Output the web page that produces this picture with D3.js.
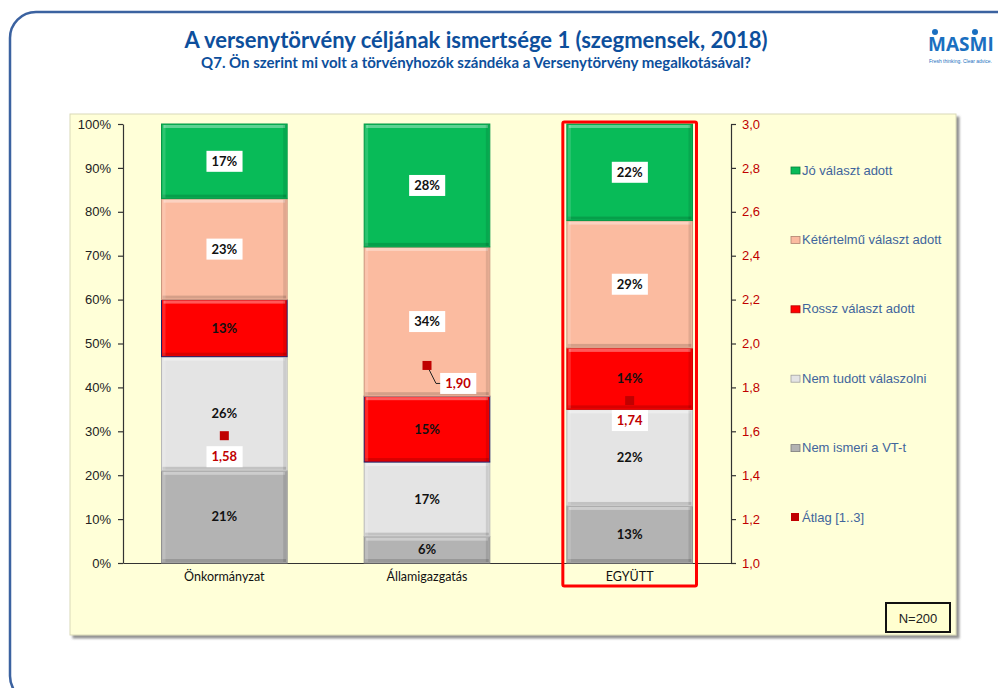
<!DOCTYPE html>
<html>
<head>
<meta charset="utf-8">
<script src="https://cdn.jsdelivr.net/npm/d3@7"></script>
<style>
  body { margin: 0; background: #fff; }
  svg { display: block; }
</style>
</head>
<body>
<div id="chart"></div>
<script>
// data
const categories = ["Önkormányzat", "Államigazgatás", "EGYÜTT"];
const seriesNames = ["Nem ismeri a VT-t", "Nem tudott válaszolni", "Rossz választ adott", "Kétértelmű választ adott", "Jó választ adott"];
const nemIsmeri = [21, 6, 13];
const nemTudott = [26, 17, 22];
const rossz = [13, 15, 14];
const ketertelmu = [23, 34, 29];
const jo = [17, 28, 22];
const atlag = [1.58, 1.90, 1.74];
const leftTicks = [0, 10, 20, 30, 40, 50, 60, 70, 80, 90, 100];
const rightTicks = [1.0, 1.2, 1.4, 1.6, 1.8, 2.0, 2.2, 2.4, 2.6, 2.8, 3.0];
const legendNames = ["Jó választ adott", "Kétértelmű választ adott", "Rossz választ adott", "Nem tudott válaszolni", "Nem ismeri a VT-t", "Átlag [1..3]"];

const colors = {
  "Nem ismeri a VT-t": "#b3b3b3",
  "Nem tudott válaszolni": "#e4e4e4",
  "Rossz választ adott": "#ff0000",
  "Kétértelmű választ adott": "#fbbba0",
  "Jó választ adott": "#08bb58",
  "Átlag [1..3]": "#c00000"
};
const boxed = ["Kétértelmű választ adott", "Jó választ adott"];

const huLocale = d3.formatLocale({ decimal: ",", thousands: " ", grouping: [3], currency: ["", " Ft"] });
const fmt1 = huLocale.format(".1f");
const fmt2 = huLocale.format(".2f");

const table = categories.map((c, i) => ({
  cat: c,
  "Nem ismeri a VT-t": nemIsmeri[i],
  "Nem tudott válaszolni": nemTudott[i],
  "Rossz választ adott": rossz[i],
  "Kétértelmű választ adott": ketertelmu[i],
  "Jó választ adott": jo[i],
  atlag: atlag[i]
}));

const W = 998, H = 688;
const svg = d3.select("#chart").append("svg").attr("width", W).attr("height", H)
  .style("font-family", "'Liberation Sans', Arial, sans-serif");

// outer rounded frame
svg.append("rect").attr("x", 10).attr("y", 12).attr("width", 1030).attr("height", 690)
  .attr("rx", 26).attr("fill", "none").attr("stroke", "#3b62a0").attr("stroke-width", 2.5);

// titles
svg.append("text").attr("x", 476).attr("y", 48).attr("text-anchor", "middle")
  .style("font-family", "Lato, sans-serif").style("font-weight", "bold").style("font-size", "22px")
  .attr("fill", "#0d4f9c").text("A versenytörvény céljának ismertsége 1 (szegmensek, 2018)");
svg.append("text").attr("x", 476).attr("y", 68).attr("text-anchor", "middle")
  .style("font-family", "Lato, sans-serif").style("font-weight", "bold").style("font-size", "15px")
  .attr("fill", "#0d4f9c").text("Q7. Ön szerint mi volt a törvényhozók szándéka a Versenytörvény megalkotásával?");

// logo
const logo = svg.append("g").attr("transform", "translate(928,0)");
logo.append("text").attr("x", 0).attr("y", 51)
  .style("font-family", "'Open Sans', sans-serif").style("font-weight", "bold").style("font-size", "19px")
  .attr("fill", "#1a6fc0").text("MASMI");
[7, 47].forEach(dx => logo.append("circle").attr("cx", dx).attr("cy", 32).attr("r", 3).attr("fill", "#1a6fc0"));
logo.append("text").attr("x", 1).attr("y", 63).style("font-size", "5.5px")
  .attr("textLength", 63).attr("lengthAdjust", "spacingAndGlyphs")
  .attr("fill", "#1a6fc0").text("Fresh thinking. Clear advice.");

// panel
const defs = svg.append("defs");
const sh = defs.append("filter").attr("id", "shadow").attr("x", "-5%").attr("y", "-5%").attr("width", "110%").attr("height", "110%");
sh.append("feDropShadow").attr("dx", 3).attr("dy", 3).attr("stdDeviation", 1.2).attr("flood-color", "#777").attr("flood-opacity", 0.8);
svg.append("rect").attr("x", 70).attr("y", 114).attr("width", 886).attr("height", 521)
  .attr("fill", "#ffffd8").attr("stroke", "#d9d9b8").attr("stroke-width", 1).attr("filter", "url(#shadow)");

const margin = { top: 124, left: 123 };
const width = 608, height = 439;
const g = svg.append("g").attr("transform", `translate(${margin.left},${margin.top})`);

const x = d3.scaleBand().domain(categories).range([0, width]).paddingInner(0.38).paddingOuter(0.19);
const y = d3.scaleLinear().domain([0, 100]).range([height, 0]);
const y2 = d3.scaleLinear().domain([1, 3]).range([height, 0]);

// axes
const axL = g.append("g").call(d3.axisLeft(y).tickValues(leftTicks).tickFormat(d => d + "%").tickSize(5).tickSizeOuter(0));
axL.selectAll("text").attr("fill", "#222").style("font-size", "13px").attr("x", -12);
const axR = g.append("g").attr("transform", `translate(${width},0)`)
  .call(d3.axisRight(y2).tickValues(rightTicks).tickFormat(fmt1).tickSize(5).tickSizeOuter(0));
axR.selectAll("text").attr("fill", "#c00000").style("font-size", "13px").attr("x", 11);
const axB = g.append("g").attr("transform", `translate(0,${height})`)
  .call(d3.axisBottom(x).tickSize(0).tickSizeOuter(0));
axB.selectAll("text").attr("fill", "#111").style("font-family", "Lato, sans-serif").style("font-size", "12.5px").attr("dy", "1.2em");
g.selectAll(".domain, .tick line").attr("stroke", "#333").attr("stroke-width", 1.2);

// stacked bars
const stack = d3.stack().keys(seriesNames)(table);
const bw = x.bandwidth();
stack.forEach(layer => {
  const key = layer.key;
  const lg = g.append("g");
  layer.forEach(d => {
    const x0 = x(d.data.cat), yt = y(d[1]), yb = y(d[0]);
    const h = yb - yt;
    const isRed = key === "Rossz választ adott";
    lg.append("rect").attr("x", x0).attr("y", yt).attr("width", bw).attr("height", h)
      .attr("fill", colors[key])
      .attr("stroke", isRed && d.data.cat !== "EGYÜTT" ? "#1c1c6a" : d3.color(colors[key]).darker(0.6))
      .attr("stroke-width", 1);
    // bevel
    lg.append("rect").attr("x", x0 + 2).attr("y", yt + 1).attr("width", bw - 4).attr("height", 3)
      .attr("fill", "#fff").attr("opacity", 0.35);
    lg.append("rect").attr("x", x0 + 1).attr("y", yb - 4).attr("width", bw - 2).attr("height", 3)
      .attr("fill", "#000").attr("opacity", 0.15);
    lg.append("rect").attr("x", x0 + bw - 4).attr("y", yt + 1).attr("width", 3).attr("height", h - 2)
      .attr("fill", "#000").attr("opacity", 0.1);
    lg.append("rect").attr("x", x0 + 1).attr("y", yt + 1).attr("width", 3).attr("height", h - 2)
      .attr("fill", "#fff").attr("opacity", 0.15);
  });
});

// percentage labels
stack.forEach(layer => {
  layer.forEach(d => {
    const cx = x(d.data.cat) + bw / 2;
    const cy = (y(d[0]) + y(d[1])) / 2;
    const lbl = g.append("g");
    const t = lbl.append("text").attr("x", cx).attr("y", cy).attr("dy", "0.35em")
      .attr("text-anchor", "middle").style("font-family", "Lato, sans-serif")
      .style("font-weight", "bold").style("font-size", "13px").attr("fill", "#111")
      .text((d[1] - d[0]) + "%");
    if (boxed.includes(layer.key)) {
      const bb = t.node().getBBox();
      lbl.insert("rect", "text").attr("x", bb.x - 5).attr("y", cy - 10.5)
        .attr("width", bb.width + 10).attr("height", 21).attr("fill", "#fff");
    }
  });
});

// average markers
const labelOffset = { "Önkormányzat": [0, 21], "Államigazgatás": [31, 18], "EGYÜTT": [0, 20] };
table.forEach(d => {
  const cx = x(d.cat) + bw / 2, cy = y2(d.atlag);
  const off = labelOffset[d.cat];
  if (off[0] !== 0) {
    g.append("path").attr("d", `M${cx},${cy} L${cx + 9},${cy + off[1]} L${cx + off[0] - 15},${cy + off[1]}`)
      .attr("fill", "none").attr("stroke", "#222").attr("stroke-width", 1);
  }
  g.append("rect").attr("x", cx - 4.5).attr("y", cy - 4.5).attr("width", 9).attr("height", 9).attr("fill", "#c00000");
  const lbl = g.append("g");
  const t = lbl.append("text").attr("x", cx + off[0]).attr("y", cy + off[1]).attr("dy", "0.35em")
    .attr("text-anchor", "middle").style("font-family", "Lato, sans-serif").style("font-weight", "bold")
    .style("font-size", "13px").attr("fill", "#c00000").text(fmt2(d.atlag));
  const bb = t.node().getBBox();
  lbl.insert("rect", "text").attr("x", bb.x - 5).attr("y", cy + off[1] - 10.5)
    .attr("width", bb.width + 10).attr("height", 21).attr("fill", "#fff");
});

// highlight around EGYÜTT
g.append("rect").attr("x", x("EGYÜTT") - 4).attr("y", -2).attr("width", bw + 8).attr("height", height + 25)
  .attr("fill", "none").attr("stroke", "#ff0000").attr("stroke-width", 3).attr("rx", 1.5);

// legend
const legend = svg.append("g").attr("transform", "translate(791,170)");
legendNames.forEach((name, i) => {
  const it = legend.append("g").attr("transform", `translate(0,${i * 69.4})`);
  if (name === "Átlag [1..3]") {
    it.append("rect").attr("x", 0).attr("y", -4).attr("width", 8).attr("height", 8).attr("fill", colors[name]);
  } else {
    it.append("rect").attr("x", 0).attr("y", -3).attr("width", 9).attr("height", 7).attr("fill", colors[name])
      .attr("stroke", d3.color(colors[name]).darker(1)).attr("stroke-width", 0.8);
  }
  it.append("text").attr("x", 11).attr("y", 0).attr("dy", "0.35em").style("font-size", "13px")
    .attr("fill", "#41659c").text(name);
});

// N=200 box
svg.append("rect").attr("x", 886).attr("y", 603).attr("width", 64).attr("height", 29)
  .attr("fill", "#ffffd0").attr("stroke", "#111").attr("stroke-width", 2);
svg.append("text").attr("x", 918).attr("y", 618).attr("dy", "0.35em").attr("text-anchor", "middle")
  .style("font-size", "13px").attr("fill", "#222").text("N=200");
</script>
</body>
</html>
